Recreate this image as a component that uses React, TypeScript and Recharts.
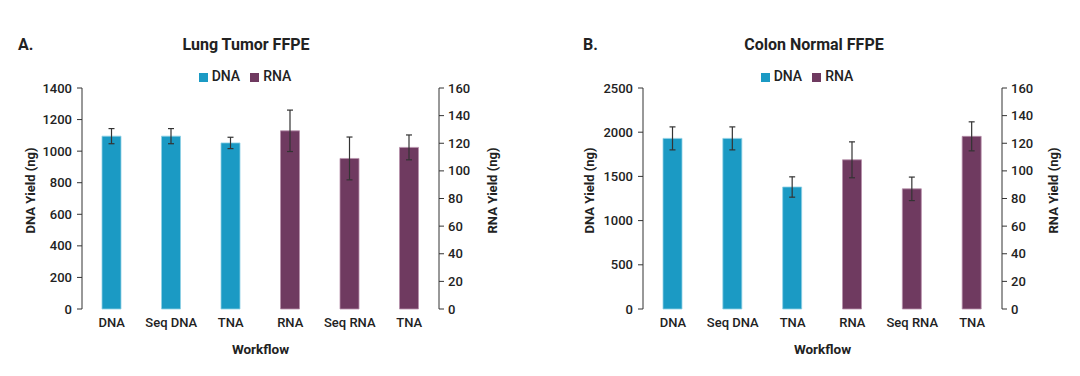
import { BarChart, Bar, XAxis, YAxis, Legend, ErrorBar } from 'recharts';

const categories = ['DNA', 'Seq DNA', 'TNA', 'RNA', 'Seq RNA', 'TNA'];

const lungDna = [1095, 1095, 1052, null, null, null];
const lungDnaErr = [48, 48, 36, null, null, null];
const lungRna = [null, null, null, 129, 109, 117];
const lungRnaErr = [null, null, null, 15, 15.5, 9];

const colonDna = [1930, 1930, 1380, null, null, null];
const colonDnaErr = [130, 130, 115, null, null, null];
const colonRna = [null, null, null, 108, 87, 125];
const colonRnaErr = [null, null, null, 13, 8.5, 10.5];

const lungDnaTicks = [0, 200, 400, 600, 800, 1000, 1200, 1400];
const colonDnaTicks = [0, 500, 1000, 1500, 2000, 2500];
const rnaTicks = [0, 20, 40, 60, 80, 100, 120, 140, 160];
const boundaryTicks = [0, 1, 2, 3, 4, 5, 6];

const DNA_COLOR = '#1b9ac4';
const RNA_COLOR = '#6f3a60';
const INK = '#222';

const build = (dna: (number | null)[], dnaErr: (number | null)[], rna: (number | null)[], rnaErr: (number | null)[]) =>
  categories.map((name, i) => ({ name, dna: dna[i], dnaErr: dnaErr[i], rna: rna[i], rnaErr: rnaErr[i] }));

const tick = { fill: INK, fontSize: 13, fontWeight: 500 };
const labelStyle = { fill: INK, fontSize: 13, fontWeight: 700, textAnchor: 'middle' as const };

type PanelProps = {
  letter: string;
  title: string;
  data: ReturnType<typeof build>;
  dnaMax: number;
  dnaTicks: number[];
  leftW: number;
  rightW: number;
  leftLabelOff: number;
  rightLabelOff: number;
  letterX: number;
  center: number;
  legendCenter: number;
};

function Panel(p: PanelProps) {
  return (
    <div style={{ position: 'relative', width: 540, height: 376 }}>
      <div style={{ position: 'absolute', left: p.letterX, top: 36, fontSize: 16, fontWeight: 700, lineHeight: '18px', color: INK }}>{p.letter}</div>
      <div style={{ position: 'absolute', left: 0, width: p.center * 2, top: 36, textAlign: 'center', fontSize: 16, fontWeight: 700, lineHeight: '18px', color: INK }}>{p.title}</div>
      <BarChart width={540} height={376} data={p.data} margin={{ top: 88, right: 0, bottom: 7, left: 0 }} barSize={19} barGap={-19}>
        <XAxis xAxisId="b" type="number" domain={[0, 6]} ticks={boundaryTicks} allowDataOverflow height={0}
          tickFormatter={() => ''} tickSize={5} stroke="#333" />
        <XAxis dataKey="name" height={60} axisLine={false} tickLine={false} tick={tick} tickSize={6} tickMargin={3}
          label={{ value: 'Workflow', position: 'insideBottom', offset: 15, style: { fill: INK, fontSize: 13.5, fontWeight: 700 } }} />
        <YAxis yAxisId="l" domain={[0, p.dnaMax]} ticks={p.dnaTicks} width={p.leftW} tick={tick} tickSize={5} tickMargin={5} stroke="#333"
          label={{ value: 'DNA Yield (ng)', angle: -90, position: 'insideLeft', offset: p.leftLabelOff, dy: -8, style: labelStyle }} />
        <YAxis yAxisId="r" orientation="right" domain={[0, 160]} ticks={rnaTicks} width={p.rightW} tick={tick} tickSize={5} tickMargin={4} stroke="#333"
          label={{ value: 'RNA Yield (ng)', angle: -90, position: 'insideRight', offset: p.rightLabelOff, dy: -8, style: labelStyle }} />
        <Legend verticalAlign="middle" align="center" iconType="square" iconSize={9}
          wrapperStyle={{ left: 0, width: p.legendCenter * 2, top: 68, fontSize: 14, fontWeight: 500 }}
          formatter={(v: string) => <span style={{ color: INK }}>{v}</span>} />
        <Bar yAxisId="l" dataKey="dna" name="DNA" fill={DNA_COLOR} stroke="#8fd0e6" strokeWidth={0.8} isAnimationActive={false}>
          <ErrorBar dataKey="dnaErr" width={3} stroke="#333" strokeWidth={1.2} />
        </Bar>
        <Bar yAxisId="r" dataKey="rna" name="RNA" fill={RNA_COLOR} stroke="#b890ab" strokeWidth={0.8} isAnimationActive={false}>
          <ErrorBar dataKey="rnaErr" width={3} stroke="#333" strokeWidth={1.2} />
        </Bar>
      </BarChart>
    </div>
  );
}

export default function App() {
  return (
    <div style={{ position: 'absolute', left: 0, top: 0, width: 1080, height: 376, display: 'flex', background: '#fff', fontFamily: 'Roboto, sans-serif' }}>
      <Panel letter="A." title="Lung Tumor FFPE" data={build(lungDna, lungDnaErr, lungRna, lungRnaErr)}
        dnaMax={1400} dnaTicks={lungDnaTicks} leftW={82} rightW={101} leftLabelOff={30} rightLabelOff={48}
        letterX={18} center={246} legendCenter={250} />
      <Panel letter="B." title="Colon Normal FFPE" data={build(colonDna, colonDnaErr, colonRna, colonRnaErr)}
        dnaMax={2500} dnaTicks={colonDnaTicks} leftW={103} rightW={78} leftLabelOff={49} rightLabelOff={27}
        letterX={43} center={274} legendCenter={272} />
    </div>
  );
}
